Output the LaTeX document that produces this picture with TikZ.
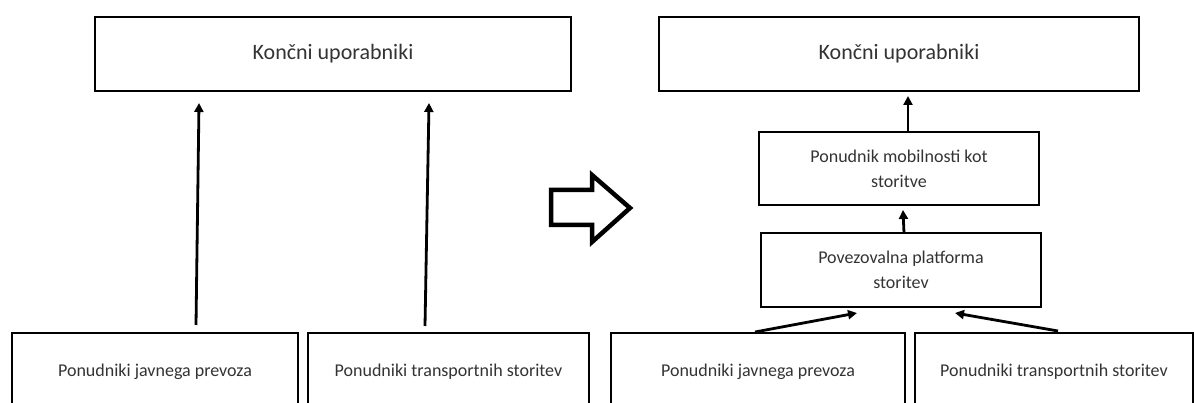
\documentclass[tikz,border=0pt]{standalone}
\usepackage{fontspec}
\setmainfont{Carlito}
\usetikzlibrary{arrows.meta}

\begin{document}
\begin{tikzpicture}[x=1pt, y=-1pt,
    box/.style={draw, line width=2pt, inner sep=0pt, outer sep=0pt, align=center,
        text=black!80, font=\fontsize{18}{25}\selectfont},
    topbox/.style={box, minimum height=74pt, font=\fontsize{22}{26}\selectfont},
    arr/.style={line width=2.8pt, -{Triangle[length=9pt,width=9pt]}},
]
    \useasboundingbox (0,0) rectangle (1194,403);
    \clip (0,0) rectangle (1194,403);

    % Left: before
    \node[topbox, minimum width=476pt] (usersL) at (333,54) {Končni uporabniki};
    \node[box, minimum width=286pt, minimum height=78pt] (publicL) at (155,372) {Ponudniki javnega prevoza};
    \node[box, minimum width=281pt, minimum height=78pt] (transportL) at (448.5,372) {Ponudniki transportnih storitev};

    \draw[arr] ([xshift=41pt,yshift=8pt]publicL.north) -- ([xshift=-134pt,yshift=-12pt]usersL.south);
    \draw[arr] ([xshift=-23.5pt,yshift=7pt]transportL.north) -- ([xshift=96pt,yshift=-12pt]usersL.south);

    % Big arrow
    \draw[line width=4.5pt, miter limit=10] (551,190) -- (592,190) -- (592,175) -- (630,208)
        -- (592,242) -- (592,225) -- (551,225) -- cycle;

    % Right: after
    \node[topbox, minimum width=480pt] (usersR) at (899,54) {Končni uporabniki};
    \node[box, minimum width=280pt, minimum height=73pt] (maas) at (899,168.5) {Ponudnik mobilnosti kot\\storitve};
    \node[box, minimum width=280pt, minimum height=74pt] (platform) at (901,270) {Povezovalna platforma\\storitev};
    \node[box, minimum width=294pt, minimum height=78pt] (publicR) at (758,372) {Ponudniki javnega prevoza};
    \node[box, minimum width=278pt, minimum height=78pt] (transportR) at (1054,372) {Ponudniki transportnih storitev};

    \draw[arr] ([xshift=9pt]maas.north) -- ([xshift=9pt,yshift=-5pt]usersR.south);
    \draw[arr] ([xshift=3pt]platform.north) -- ([xshift=4pt,yshift=-5pt]maas.south);
    \draw[arr] ([xshift=-3pt,yshift=1pt]publicR.north) -- ([xshift=-44pt,yshift=-6pt]platform.south);
    \draw[arr] ([xshift=4pt,yshift=2pt]transportR.north) -- ([xshift=54pt,yshift=-6pt]platform.south);
\end{tikzpicture}
\end{document}
